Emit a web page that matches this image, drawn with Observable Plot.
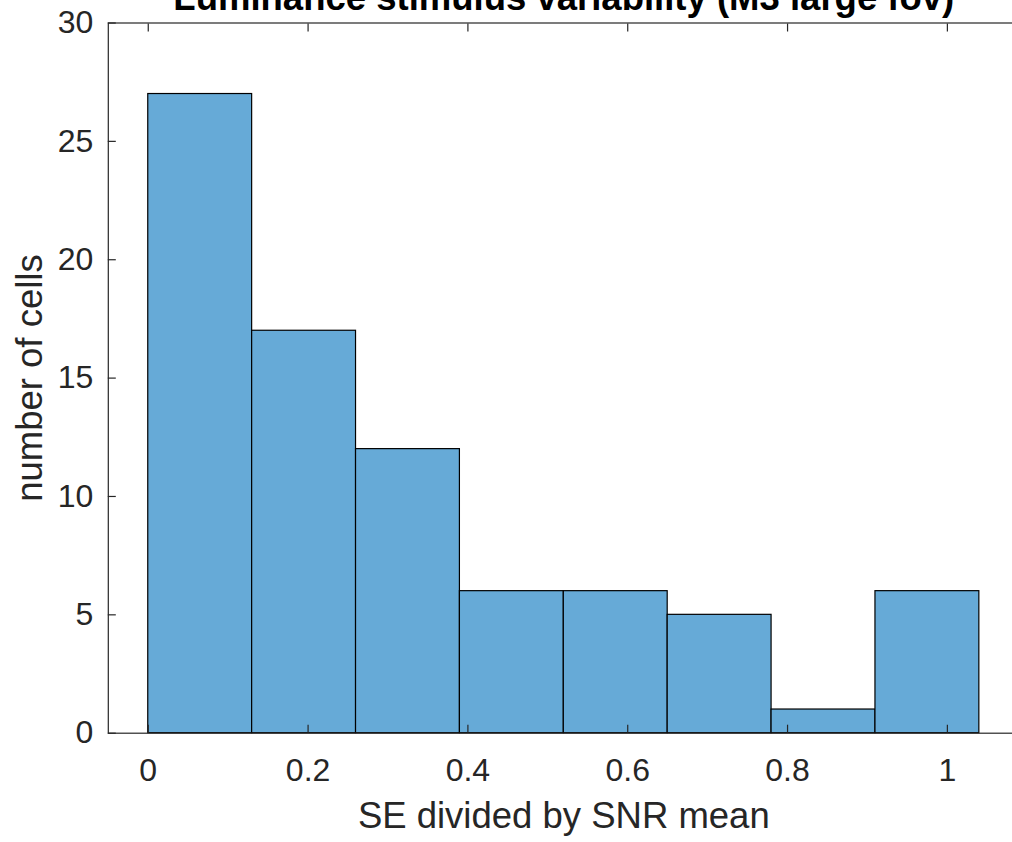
<!DOCTYPE html>
<html><head><meta charset="utf-8">
<script src="https://cdn.jsdelivr.net/npm/d3@7"></script>
<script src="https://cdn.jsdelivr.net/npm/@observablehq/plot@0.6"></script>
<style>body{margin:0;background:#fff;} svg{display:block}</style>
</head><body><div id="chart"></div>
<script>
const binEdges = [0, 0.13, 0.26, 0.39, 0.52, 0.65, 0.78, 0.91, 1.04];
const counts = [27, 17, 12, 6, 6, 5, 1, 6];
const xTicks = [0, 0.2, 0.4, 0.6, 0.8, 1];
const yTicks = [0, 5, 10, 15, 20, 25, 30];
const titleText = "Luminance stimulus variability (M3 large fov)";
const xLabel = "SE divided by SNR mean";
const yLabel = "number of cells";

const bins = counts.map((c, i) => ({x1: binEdges[i], x2: binEdges[i + 1], count: c}));
const ink = "#262626";
const font = "'Liberation Sans', Arial, Helvetica, sans-serif";

const chart = Plot.plot({
  width: 1012, height: 842,
  marginLeft: 107.8, marginRight: -6.8, marginTop: 22.5, marginBottom: 109.3,
  style: {fontFamily: font, color: ink, background: "#fff", overflow: "hidden"},
  x: {domain: [-0.05, 1.09]},
  y: {domain: [0, 30]},
  marks: [
    Plot.rectY(bins, {x1: "x1", x2: "x2", y: "count", fill: "#66AAD7", stroke: "#000", strokeWidth: 1.2}),
    Plot.frame({stroke: ink, strokeWidth: 1.2}),
    Plot.axisX({ticks: xTicks, tickSize: 0, tickPadding: 25, fontSize: 32, label: null, fill: ink, tickFormat: d => String(d)}),
    Plot.axisX({ticks: xTicks, anchor: "bottom", tickSize: -8, tickFormat: () => null, label: null, stroke: ink, strokeWidth: 1.2}),
    Plot.axisX({ticks: xTicks, anchor: "top", tickSize: -8, tickFormat: () => null, label: null, stroke: ink, strokeWidth: 1.2}),
    Plot.axisY({ticks: yTicks, tickSize: 0, tickPadding: 15, fontSize: 32, label: null, fill: ink, tickFormat: d => String(d)}),
    Plot.axisY({ticks: yTicks, anchor: "left", tickSize: -8, tickFormat: () => null, label: null, stroke: ink, strokeWidth: 1.2}),
    Plot.text([titleText], {frameAnchor: "top", dy: -13, lineAnchor: "bottom", textAnchor: "middle", text: d => d, fontSize: 36.5, fontWeight: "bold", fill: "#000"}),
    Plot.text([xLabel], {frameAnchor: "bottom", dy: 94.3, lineAnchor: "bottom", textAnchor: "middle", text: d => d, fontSize: 36.5, fill: ink}),
    Plot.text([yLabel], {frameAnchor: "left", dx: -66, lineAnchor: "bottom", textAnchor: "middle", rotate: -90, text: d => d, fontSize: 36.5, fill: ink})
  ]
});
document.getElementById("chart").append(chart);
</script>
</body></html>
